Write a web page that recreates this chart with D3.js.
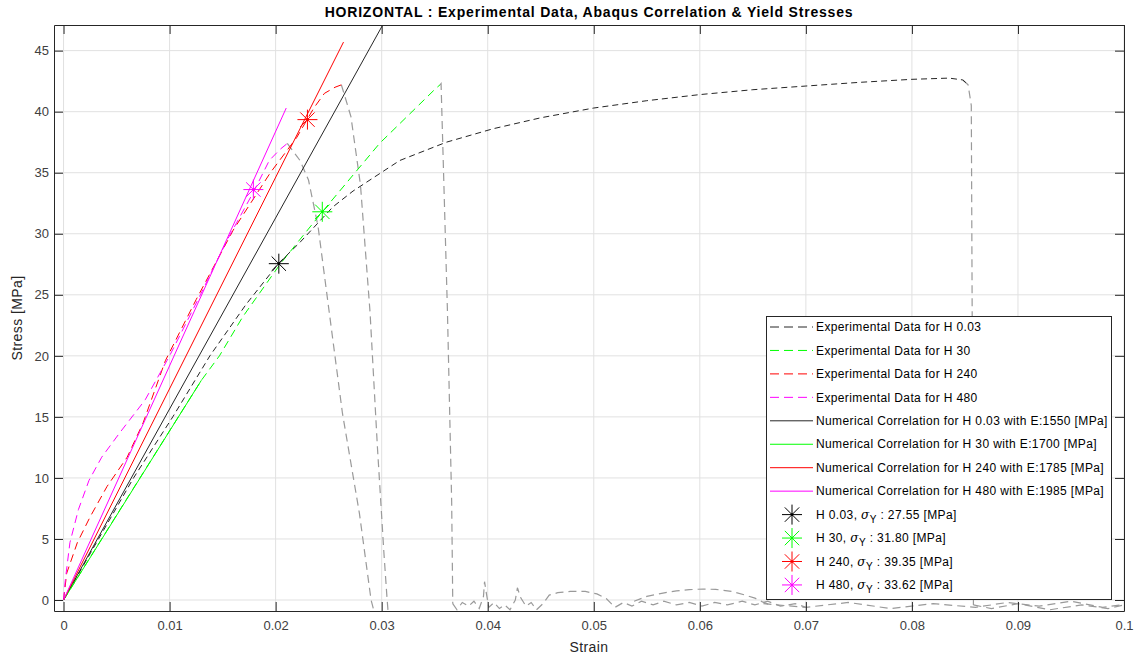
<!DOCTYPE html>
<meta charset="utf-8">
<script src="https://d3js.org/d3.v7.min.js"></script>
<style>
  body { margin: 0; background: #fff; }
  svg { font-family: "Liberation Sans", Arial, sans-serif; }
</style>

<div id="chart"></div>

<script>
// ---- values ----
var strainTicks = [0, 0.01, 0.02, 0.03, 0.04, 0.05, 0.06, 0.07, 0.08, 0.09, 0.1];
var strainTickLabels = ["0", "0.01", "0.02", "0.03", "0.04", "0.05", "0.06", "0.07", "0.08", "0.09", "0.1"];
var stressTicks = [0, 5, 10, 15, 20, 25, 30, 35, 40, 45];
var stressTickLabels = ["0", "5", "10", "15", "20", "25", "30", "35", "40", "45"];

var specimens = ["H 0.03", "H 30", "H 240", "H 480"];
var modulus = [1550, 1700, 1785, 1985];
var yieldStress = [27.55, 31.80, 39.35, 33.62];
var yieldStrain = [0.0203, 0.0244, 0.0230, 0.0179];

// experimental curves [strain, stress], up to the peak
var expH003 = [[0, 0], [0.0033, 5], [0.0066, 10], [0.0103, 15], [0.0138, 20], [0.0172, 24.2], [0.0203, 27.6],
  [0.0223, 29.3], [0.0254, 32.2], [0.0273, 33.5], [0.0317, 36.0], [0.0361, 37.5], [0.0405, 38.6], [0.045, 39.5],
  [0.05, 40.3], [0.055, 40.9], [0.06, 41.4], [0.065, 41.8], [0.07, 42.1], [0.075, 42.4], [0.08, 42.65],
  [0.0835, 42.75], [0.0848, 42.6], [0.0853, 42.2]];
var expH30 = [[0, 0], [0.0059, 8.2], [0.013, 18.0], [0.0147, 20], [0.0169, 23.2], [0.0205, 27.6], [0.0244, 31.8],
  [0.0298, 37.4], [0.0351, 41.9], [0.0355, 42.2]];
var expH240 = [[0, 0], [0.0003, 2.2], [0.0013, 4.7], [0.0025, 6.8], [0.0041, 9.3], [0.006, 11.7], [0.0075, 14.5],
  [0.0096, 19.6], [0.0125, 24.6], [0.016, 30.3], [0.0195, 35.0], [0.022, 37.9], [0.0236, 40.3], [0.0246, 41.5],
  [0.0256, 42.0], [0.0262, 42.2]];
var expH480 = [[0, 0], [0.00016, 1.6], [0.0006, 4.7], [0.0014, 7.4], [0.0024, 9.8], [0.0036, 11.7], [0.0053, 13.7],
  [0.0077, 16.4], [0.0100, 20.0], [0.0129, 25.0], [0.0155, 29.6], [0.0179, 33.4], [0.0194, 36.0], [0.0204, 36.9],
  [0.0211, 37.4]];

// rest of the test records (grey): drop after the peak and noise after fracture
var dropH003 = [[0.0848, 42.6], [0.0853, 42.2], [0.0856, 40.5], [0.0857, 20], [0.0858, 0], [0.0858, -0.4]];
var dropH30 = [[0.0355, 42.2], [0.0356, 42.3], [0.0362, 23.7], [0.0366, 8], [0.0367, 0], [0.0367, -0.3]];
var dropH240 = [[0.0262, 42.2], [0.0271, 39.6], [0.0280, 34.0], [0.0289, 23.6], [0.0296, 12.5], [0.0302, 4],
  [0.0305, 0.2], [0.0307, -2]];
var dropH480 = [[0.0211, 37.4], [0.0223, 36.0], [0.0231, 34.4], [0.0240, 30.6], [0.0249, 24.6], [0.0263, 15.3],
  [0.0279, 7.1], [0.0290, 0], [0.0296, -2]];
var noiseA = [[0.0367, -0.3], [0.0371, -0.8], [0.0376, -0.2], [0.0382, -0.5], [0.0387, -0.1], [0.0392, -0.7],
  [0.0396, 0.3], [0.0397, 1.5], [0.0399, 0.4], [0.0401, -0.6], [0.0406, -0.2], [0.0411, -0.7], [0.0416, -0.4],
  [0.0421, -0.8], [0.0426, 0.0], [0.0428, 1.0], [0.0431, 0.2], [0.0436, -0.5], [0.0441, -0.2], [0.0446, -0.8],
  [0.0452, -0.3], [0.0458, 0.4], [0.0466, 0.6], [0.0478, 0.7], [0.0492, 0.7], [0.0503, 0.5], [0.0512, 0.1],
  [0.0520, -0.6], [0.0528, -0.2], [0.0536, -0.5], [0.0545, -0.1], [0.0556, -0.4], [0.0566, -0.1], [0.0578, -0.4],
  [0.0590, -0.2], [0.0602, -0.5], [0.0614, -0.2], [0.0626, -0.4], [0.0640, -0.1], [0.0652, -0.4], [0.0664, -0.1],
  [0.0676, -0.5], [0.0690, -0.3], [0.0700, -0.6]];
var noiseB = [[0.0538, -0.1], [0.0550, 0.3], [0.0564, 0.55], [0.0578, 0.75], [0.0590, 0.85], [0.0603, 0.9],
  [0.0615, 0.87], [0.0630, 0.7], [0.0643, 0.4], [0.0652, 0.15], [0.0659, -0.15], [0.0668, -0.45]];
var noiseC = [[0.0660, -0.3], [0.070, -0.6], [0.074, -0.2], [0.078, -0.7], [0.082, -0.3], [0.086, -0.6],
  [0.089, -0.2], [0.092, -0.5], [0.095, -0.1], [0.098, -0.6], [0.1005, -0.3]];
var noiseD = [[0.0858, -0.4], [0.0875, -0.7], [0.090, -0.3], [0.093, -0.8], [0.096, -0.4], [0.0985, -0.7],
  [0.1005, -0.3]];

// Abaqus correlation lines [strain, stress]
var numH003 = [[0, 0], [0.0315, 49.3]];
var numH30 = [[0, 0], [0.013, 18.0]];
var numH240 = [[0, 0], [0.0264, 45.7]];
var numH480 = [[0, 0], [0.0210, 40.3]];

var colors = ["#262626", "#00ff00", "#ff0000", "#ff00ff"];

// ---- layout ----
var width = 1144, height = 657;
var plotL = 54, plotR = 1124, plotT = 25, plotB = 611;

var svg = d3.select("#chart")
  .append("svg")
  .attr("width", width)
  .attr("height", height);

var x = d3.scaleLinear().domain([-0.0009, 0.1]).range([plotL, plotR]);
var y = d3.scaleLinear().domain([-0.9, 47.1]).range([plotB, plotT]);

svg.append("defs").append("clipPath").attr("id", "plotclip")
  .append("rect")
  .attr("x", plotL).attr("y", plotT)
  .attr("width", plotR - plotL).attr("height", plotB - plotT);

// grid
var grid = svg.append("g");
grid.selectAll("line.gx").data(strainTicks).enter().append("line")
  .attr("x1", function (d) { return x(d); }).attr("x2", function (d) { return x(d); })
  .attr("y1", plotT).attr("y2", plotB)
  .attr("stroke", "#e1e1e1").attr("stroke-width", 1);
grid.selectAll("line.gy").data(stressTicks).enter().append("line")
  .attr("y1", function (d) { return y(d); }).attr("y2", function (d) { return y(d); })
  .attr("x1", plotL).attr("x2", plotR)
  .attr("stroke", "#e1e1e1").attr("stroke-width", 1);

var line = d3.line()
  .x(function (d) { return x(d[0]); })
  .y(function (d) { return y(d[1]); });

var plot = svg.append("g").attr("clip-path", "url(#plotclip)");

// grey parts of the records
[dropH003, dropH30, dropH240, dropH480, noiseA, noiseB, noiseC, noiseD].forEach(function (s) {
  plot.append("path").datum(s)
    .attr("d", line)
    .attr("fill", "none")
    .attr("stroke", "#9a9a9a")
    .attr("stroke-width", 1.2)
    .attr("stroke-dasharray", "8,5");
});

// experimental data
[expH003, expH30, expH240, expH480].forEach(function (s, i) {
  plot.append("path").datum(s)
    .attr("d", line)
    .attr("fill", "none")
    .attr("stroke", colors[i])
    .attr("stroke-width", 1)
    .attr("stroke-dasharray", i == 0 ? "6,4" : "8,5");
});

// numerical correlation
[numH003, numH30, numH240, numH480].forEach(function (s, i) {
  plot.append("path").datum(s)
    .attr("d", line)
    .attr("fill", "none")
    .attr("stroke", colors[i])
    .attr("stroke-width", 1);
});

// asterisk marker like matlab '*'
function star(r) {
  var d = r * 0.72;
  return "M" + (-r) + ",0L" + r + ",0M0," + (-r) + "L0," + r +
    "M" + (-d) + "," + (-d) + "L" + d + "," + d + "M" + (-d) + "," + d + "L" + d + "," + (-d);
}

yieldStrain.forEach(function (e, i) {
  var c = i == 0 ? "#000" : colors[i];
  var g = plot.append("g").attr("transform", "translate(" + x(e) + "," + y(yieldStress[i]) + ")");
  g.append("path").attr("d", star(10)).attr("stroke", c).attr("stroke-width", 1).attr("fill", "none");
  g.append("circle").attr("r", 1.3).attr("fill", c);
});

// axes: ticks inward on all four sides
var axisColor = "#262626";
function styleAxis(g) {
  g.selectAll(".domain").attr("stroke", axisColor);
  g.selectAll(".tick line").attr("stroke", axisColor);
  g.selectAll(".tick text").attr("fill", "#404040").style("font-size", "13px")
    .attr("font-family", "Liberation Sans, Arial, sans-serif");
}

svg.append("g").attr("transform", "translate(0," + plotB + ")")
  .call(d3.axisBottom(x).tickValues(strainTicks)
    .tickFormat(function (d, i) { return strainTickLabels[i]; })
    .tickSizeInner(-9).tickSizeOuter(0).tickPadding(10))
  .call(styleAxis);
svg.append("g").attr("transform", "translate(0," + plotT + ")")
  .call(d3.axisTop(x).tickValues(strainTicks).tickFormat("").tickSizeInner(-9).tickSizeOuter(0))
  .call(styleAxis);
svg.append("g").attr("transform", "translate(" + plotL + ",0)")
  .call(d3.axisLeft(y).tickValues(stressTicks)
    .tickFormat(function (d, i) { return stressTickLabels[i]; })
    .tickSizeInner(-9).tickSizeOuter(0).tickPadding(5))
  .call(styleAxis);
svg.append("g").attr("transform", "translate(" + plotR + ",0)")
  .call(d3.axisRight(y).tickValues(stressTicks).tickFormat("").tickSizeInner(-9).tickSizeOuter(0))
  .call(styleAxis);

// title and labels
svg.append("text")
  .attr("x", (plotL + plotR) / 2).attr("y", 17)
  .attr("text-anchor", "middle")
  .style("font-size", "14px").style("font-weight", "bold")
  .style("letter-spacing", "0.8px")
  .attr("fill", "#000")
  .text("HORIZONTAL : Experimental Data, Abaqus Correlation & Yield Stresses");

svg.append("text")
  .attr("x", (plotL + plotR) / 2).attr("y", 652)
  .attr("text-anchor", "middle")
  .style("font-size", "14px").style("letter-spacing", "0.4px")
  .attr("fill", "#262626")
  .text("Strain");

svg.append("text")
  .attr("transform", "translate(22," + (plotT + plotB) / 2 + ") rotate(-90)")
  .attr("text-anchor", "middle")
  .style("font-size", "14px").style("letter-spacing", "0.4px")
  .attr("fill", "#262626")
  .text("Stress [MPa]");

// legend
var legend = svg.append("g");
legend.append("rect")
  .attr("x", 766.5).attr("y", 316.5)
  .attr("width", 345).attr("height", 283)
  .attr("fill", "#fff").attr("stroke", axisColor).attr("stroke-width", 1);

var rowY = function (i) { return 327 + i * 23.45; };

function legendText(yy) {
  return legend.append("text")
    .attr("x", 816).attr("y", yy).attr("dy", "0.35em")
    .style("font-size", "12px").style("letter-spacing", "0.38px")
    .attr("fill", "#000");
}

specimens.forEach(function (s, i) {
  legend.append("line")
    .attr("x1", 770).attr("x2", 813).attr("y1", rowY(i)).attr("y2", rowY(i))
    .attr("stroke", colors[i]).attr("stroke-width", 1).attr("stroke-dasharray", "9,5");
  legendText(rowY(i)).text("Experimental Data for " + s);

  legend.append("line")
    .attr("x1", 770).attr("x2", 813).attr("y1", rowY(i + 4)).attr("y2", rowY(i + 4))
    .attr("stroke", colors[i]).attr("stroke-width", 1);
  legendText(rowY(i + 4)).text("Numerical Correlation for " + s + " with E:" + modulus[i] + " [MPa]");

  var c = i == 0 ? "#000" : colors[i];
  var g = legend.append("g").attr("transform", "translate(792," + rowY(i + 8) + ")");
  g.append("path").attr("d", star(10)).attr("stroke", c).attr("stroke-width", 1).attr("fill", "none");
  g.append("circle").attr("r", 1.3).attr("fill", c);

  var t = legendText(rowY(i + 8));
  t.append("tspan").text(s + ", ");
  t.append("tspan").style("font-style", "italic").style("font-family", "DejaVu Serif, serif").text("σ");
  t.append("tspan").attr("dy", "4").style("font-size", "10px").text("Y");
  t.append("tspan").attr("dy", "-4").text(" : " + yieldStress[i].toFixed(2) + " [MPa]");
});
</script>
